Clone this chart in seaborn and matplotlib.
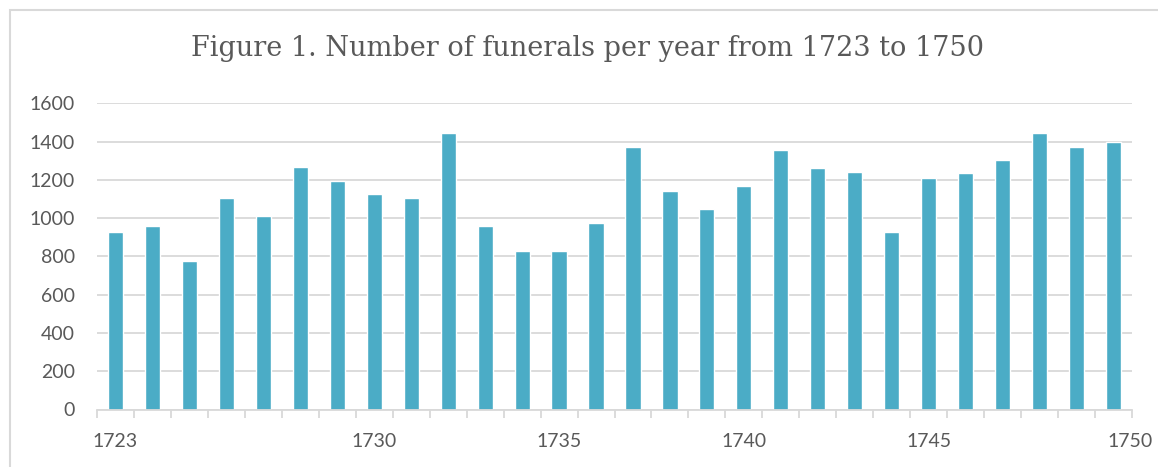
import matplotlib
matplotlib.use("Agg")
import numpy as np
import pandas as pd
import seaborn as sns
from matplotlib import pyplot as plt
from matplotlib.patches import Rectangle
from matplotlib.transforms import ScaledTranslation

years = list(range(1723, 1751))
funerals = [926, 960, 778, 1103, 1012, 1268, 1193, 1125, 1103, 1445,
            958, 827, 827, 975, 1371, 1141, 1047, 1166, 1354, 1260,
            1239, 926, 1211, 1235, 1303, 1445, 1370, 1399]
labelled_years = [1723, 1730, 1735, 1740, 1745, 1750]

df = pd.DataFrame({"year": years, "funerals": funerals})

sns.set_theme(style="white")
plt.rcParams["font.family"] = ["Lato", "DejaVu Sans"]
grey = "#595959"
line_grey = "#d9d9d9"

fig = plt.figure(figsize=(11.58, 4.67), dpi=100)
ax = fig.add_axes([97 / 1158, 1 - 409.5 / 467, 1035 / 1158, 306.2 / 467])

sns.barplot(data=df, x="year", y="funerals", color="#4bacc6", saturation=1,
            width=0.41, ax=ax)

ax.set_ylim(0, 1600)
ax.set_xlim(-0.5, len(years) - 0.5)
ax.set_yticks(range(0, 1601, 200))
ax.yaxis.grid(True, color=line_grey, linewidth=1.3)
ax.set_axisbelow(True)

idx = [years.index(y) for y in labelled_years]
ax.set_xticks(idx)
ax.set_xticklabels([str(y) for y in labelled_years])
ax.set_xticks(np.arange(-0.5, len(years)), minor=True)
ax.tick_params(axis="x", which="major", length=0, pad=17, labelsize=14,
               labelcolor=grey)
ax.tick_params(axis="x", which="minor", length=6, width=1.3, color=line_grey,
               direction="out", bottom=True)
ax.tick_params(axis="y", length=0, pad=16, labelsize=14, labelcolor=grey)

# last label sits a bit to the right in the original (Excel nudges it)
last = ax.get_xticklabels()[-1]
last.set_transform(last.get_transform() + ScaledTranslation(0.17, 0, fig.dpi_scale_trans))

for s in ["top", "right", "left"]:
    ax.spines[s].set_visible(False)
ax.spines["bottom"].set_color(line_grey)
ax.spines["bottom"].set_linewidth(1.3)
ax.set_xlabel("")
ax.set_ylabel("")

fig.text(0.507, 1 - 48 / 467, "Figure 1. Number of funerals per year from 1723 to 1750",
         ha="center", va="center", fontsize=19.5, color=grey,
         family=["DejaVu Serif"])

fig.patches.append(Rectangle((10 / 1158, -0.1), 1.2, 1.1 - 10 / 467,
                             transform=fig.transFigure, fill=False,
                             edgecolor=line_grey, linewidth=1.5))

fig.savefig("out.png", dpi=100)
